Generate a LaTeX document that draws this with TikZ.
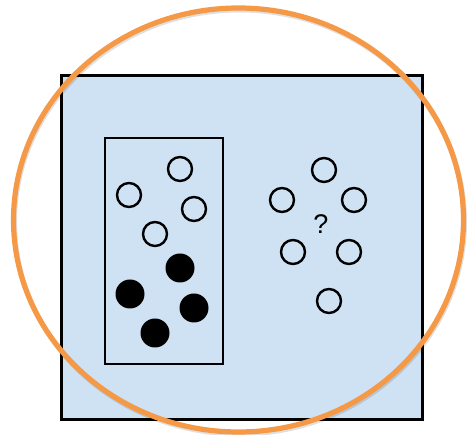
\documentclass[tikz,border=0pt]{standalone}
\usepackage{fontspec}
\setmainfont{Liberation Sans}
\usetikzlibrary{shadows}
\definecolor{panelblue}{RGB}{207,226,243}
\definecolor{ringorange}{RGB}{246,153,70}
\tikzset{
  panel/.style={draw=black, line width=3pt, fill=panelblue,
    drop shadow={opacity=0.35, shadow xshift=1.2pt, shadow yshift=-1.2pt}},
  group/.style={draw=black, line width=2.6pt},
  opendot/.style={circle, draw=black, line width=2.4pt, minimum size=24pt, inner sep=0pt},
  fulldot/.style={circle, fill=black, minimum size=29pt, inner sep=0pt},
  ring/.style={draw=ringorange, line width=5.2pt},
  ringshade/.style={draw=black, opacity=0.12, line width=5pt}
}
\begin{document}
\begin{tikzpicture}[x=1pt, y=-1pt]
  \useasboundingbox (0,0) rectangle (469,435);
  % outer panel
  \draw[panel] (61,76) rectangle (422,420);
  % labelled group
  \draw[group] (105,138) rectangle (223,364);
  \node[opendot] (a1) at (180,169) {};
  \node[opendot] (a2) at (129,195) {};
  \node[opendot] (a3) at (194,209) {};
  \node[opendot] (a4) at (155,234) {};
  \node[fulldot] (b1) at (180,268) {};
  \node[fulldot] (b2) at (130,294) {};
  \node[fulldot] (b3) at (194,308) {};
  \node[fulldot] (b4) at (155,333) {};
  % unlabelled points
  \node[opendot] (u1) at (324,170) {};
  \node[opendot] (u2) at (282,200) {};
  \node[opendot] (u3) at (354,200) {};
  \node[opendot] (u4) at (293,252) {};
  \node[opendot] (u5) at (349,252) {};
  \node[opendot] (u6) at (329,301) {};
  \node[font=\fontsize{27}{27}\selectfont, text=black] (q) at (321,224) {?};
  % highlight ring with a faint shade under it
  \draw[ringshade] (239.5,222) ellipse (225pt and 212pt);
  \draw[ring] (238.5,220) ellipse (225pt and 212pt);
\end{tikzpicture}
\end{document}
